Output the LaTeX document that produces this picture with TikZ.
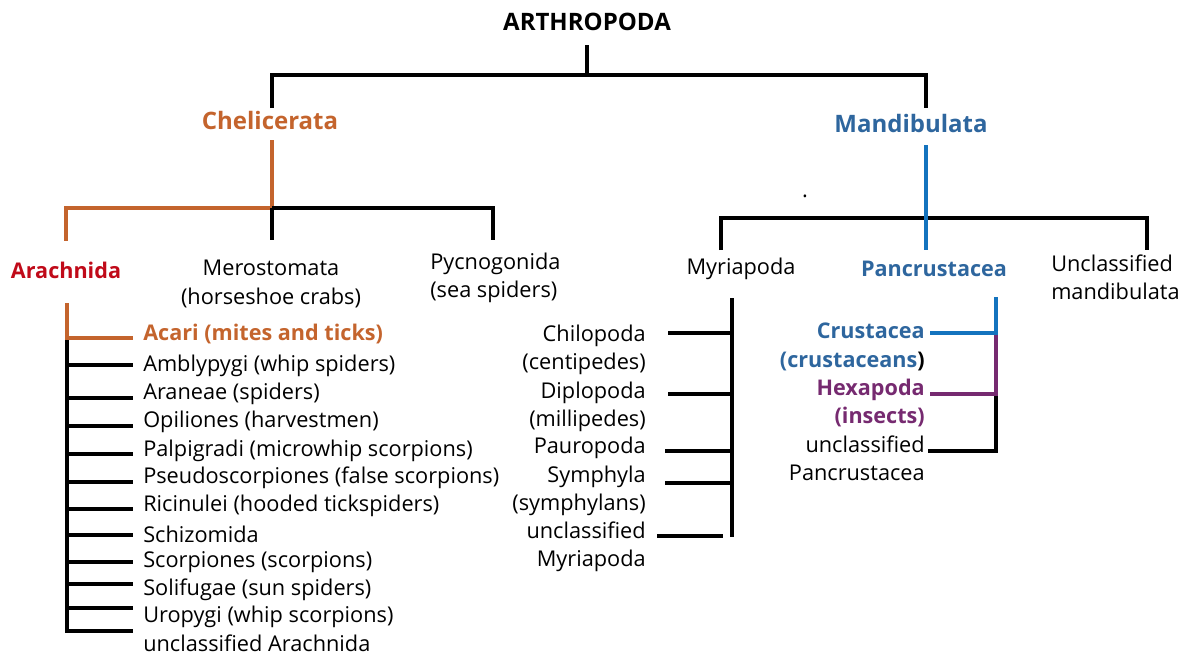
\documentclass[tikz,border=0pt]{standalone}
\usepackage{fontspec}
\setmainfont{Open Sans}
\usetikzlibrary{positioning}
\definecolor{chelorange}{RGB}{196,100,45}
\definecolor{arachred}{RGB}{192,10,25}
\definecolor{mandblue}{RGB}{46,102,158}
\definecolor{lineblue}{RGB}{20,115,190}
\definecolor{hexpurple}{RGB}{118,42,112}

\begin{document}
\begin{tikzpicture}[x=0.75pt, y=-0.75pt,
  t/.style   = {inner sep=0pt, font=\fontsize{16.3}{21.3}\selectfont},
  tb/.style  = {t, font=\fontsize{16.2}{21.3}\selectfont\bfseries},
  hd/.style  = {inner sep=0pt, font=\fontsize{18}{20}\selectfont\bfseries},
  lt/.style  = {t, anchor=west, align=left},
  rt/.style  = {t, anchor=east, align=right},
  e/.style   = {draw=black, line width=2.5pt},
  eo/.style  = {e, draw=chelorange},
  eb/.style  = {e, draw=lineblue},
  ep/.style  = {e, draw=hexpurple}]
\useasboundingbox (0,0) rectangle (1187,657);

% --- top levels -------------------------------------------------------
\node[hd]                  (arth) at (587,22)  {ARTHROPODA};
\node[hd, text=chelorange] (chel) at (270,120) {Chelicerata};
\node[hd, text=mandblue]   (mand) at (911,123) {Mandibulata};

% --- chelicerata groups -----------------------------------------------
\node[tb, text=arachred]   (arach) at (66,270)  {Arachnida};
\node[t, align=center]     (mero)  at (271,284) {Merostomata\\(horseshoe crabs)};
\node[lt]                  (pycno) at (430,278) {Pycnogonida\\(sea spiders)};

% --- mandibulata groups -----------------------------------------------
\node[t]                   (myria) at (741,269) {Myriapoda};
\node[tb, text=mandblue]   (pancr) at (934,269) {Pancrustacea};
\node[lt]                  (uncm)  at (1051,277) {Unclassified\\mandibulata};
\node[t]                   (dot)   at (805,196) {.};

% --- arachnida list ---------------------------------------------------
\node[lt, font=\fontsize{16.2}{21.3}\selectfont\bfseries, text=chelorange]
                    (acari) at (143,334) {Acari (mites and ticks)};
\node[lt] (ambly) at (143,366) {Amblypygi (whip spiders)};
\node[lt] (aran)  at (143,394) {Araneae (spiders)};
\node[lt] (opil)  at (143,422) {Opiliones (harvestmen)};
\node[lt] (palp)  at (143,451) {Palpigradi (microwhip scorpions)};
\node[lt] (pseu)  at (143,478) {Pseudoscorpiones (false scorpions)};
\node[lt] (ricin) at (143,506) {Ricinulei (hooded tickspiders)};
\node[lt] (schiz) at (143,534) {Schizomida};
\node[lt] (scorp) at (143,562) {Scorpiones (scorpions)};
\node[lt] (solif) at (143,590) {Solifugae (sun spiders)};
\node[lt] (uropy) at (143,617) {Uropygi (whip scorpions)};
\node[lt] (uncar) at (143,643) {unclassified Arachnida};

% --- myriapoda list ---------------------------------------------------
\node[rt] (chilo) at (646,350) {Chilopoda\\(centipedes)};
\node[rt] (diplo) at (646,407) {Diplopoda\\(millipedes)};
\node[rt] (pauro) at (646,448) {Pauropoda};
\node[rt] (symph) at (646,491) {Symphyla\\(symphylans)};
\node[rt] (uncmy) at (646,547) {unclassified\\Myriapoda};

% --- pancrustacea list ------------------------------------------------
\node[rt, font=\fontsize{16.2}{21.3}\selectfont\bfseries, text=mandblue]
          (crust) at (925,347) {Crustacea\\(crustaceans\textcolor{black}{)}};
\node[rt, font=\fontsize{16.2}{21.3}\selectfont\bfseries, text=hexpurple]
          (hexa)  at (925,403) {Hexapoda\\(insects)};
\node[rt] (uncpc) at (925,458) {unclassified\\Pancrustacea};

% --- junction points --------------------------------------------------
\coordinate (rootB) at (587,45);  \coordinate (rootJ) at (587,75);
\coordinate (chelT) at (272,75);  \coordinate (chelE) at (272,108);
\coordinate (mandT) at (926,75);  \coordinate (mandE) at (926,108);
\coordinate (chelB) at (272,140); \coordinate (chelJ) at (272,208);
\coordinate (arT)   at (66,208);  \coordinate (arE)   at (66,241);
\coordinate (meroE) at (272,240);
\coordinate (pyT)   at (493,208); \coordinate (pyE)   at (493,240);
\coordinate (mandB) at (926,145); \coordinate (mandJ) at (926,218);
\coordinate (myT)   at (721,218); \coordinate (myE)   at (721,250);
\coordinate (pcE)   at (926,250);
\coordinate (umT)   at (1147,218); \coordinate (umE)  at (1147,250);

\coordinate (arS) at (67,303); \coordinate (arJ) at (67,338);
\coordinate (arB) at (67,631); \coordinate (arTip) at (133,338);
\coordinate (a1) at (67,365); \coordinate (a2) at (67,398);
\coordinate (a3) at (67,426); \coordinate (a4) at (67,454);
\coordinate (a5) at (67,482); \coordinate (a6) at (67,509);
\coordinate (a7) at (67,535); \coordinate (a8) at (67,562);
\coordinate (a9) at (67,584); \coordinate (a10) at (67,608);

\coordinate (myS) at (732,298); \coordinate (myB) at (732,537);
\coordinate (m1) at (668,333); \coordinate (m2) at (668,394);
\coordinate (m3) at (665,451); \coordinate (m4) at (665,483);
\coordinate (m5) at (657,536); \coordinate (m5e) at (723,536);

\coordinate (pcS)  at (996,297); \coordinate (pcJ1) at (996,333);
\coordinate (pcJ2) at (996,394); \coordinate (pcB)  at (996,451);
\coordinate (crT)  at (930,333); \coordinate (hxT)  at (930,394);
\coordinate (upT)  at (928,451);

% --- edges ------------------------------------------------------------
\draw[e]  (rootB)--(rootJ);
\draw[e]  (chelE)--(chelT)--(mandT)--(mandE);
\draw[eo] (chelB)--(chelJ)--(arT)--(arE);
\draw[e]  (chelJ)--(pyT)--(pyE);   \draw[e] (chelJ)--(meroE);
\draw[e]  (myE)--(myT)--(umT)--(umE);
\draw[eb] (mandB)--(pcE);

\draw[e]  (arJ)--(arB)--(arB -| arTip);
\draw[eo] (arS)--(arJ)--(arTip);
\draw[e] (a1)--(a1 -| arTip);  \draw[e] (a2)--(a2 -| arTip);
\draw[e] (a3)--(a3 -| arTip);  \draw[e] (a4)--(a4 -| arTip);
\draw[e] (a5)--(a5 -| arTip);  \draw[e] (a6)--(a6 -| arTip);
\draw[e] (a7)--(a7 -| arTip);  \draw[e] (a8)--(a8 -| arTip);
\draw[e] (a9)--(a9 -| arTip);  \draw[e] (a10)--(a10 -| arTip);

\draw[e] (myS)--(myB);
\draw[e] (m1)--(m1 -| myS);  \draw[e] (m2)--(m2 -| myS);
\draw[e] (m3)--(m3 -| myS);  \draw[e] (m4)--(m4 -| myS);
\draw[e] (m5)--(m5e);

\draw[e]  (pcJ2)--(pcB)--(upT);
\draw[ep] (pcJ1)--(pcJ2)--(hxT);
\draw[eb] (pcS)--(pcJ1)--(crT);
\end{tikzpicture}
\end{document}
